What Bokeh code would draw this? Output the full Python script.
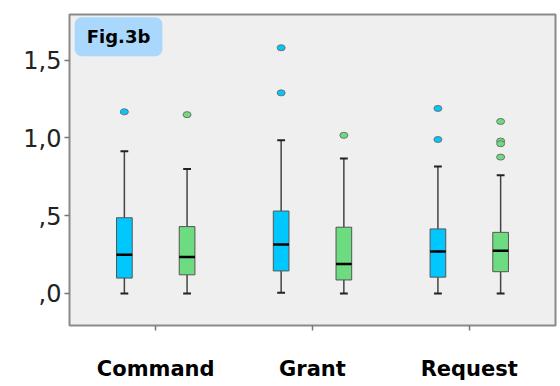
from bokeh.plotting import figure
from bokeh.models import FixedTicker, Range1d, Label
from bokeh.embed import file_html
from bokeh.resources import INLINE

categories = ["Command", "Grant", "Request"]
groups = ["blue", "green"]
# per category: [blue, green]
whisk_lo = [[0.0, 0.0], [0.005, 0.0], [0.0, 0.0]]
q1 = [[0.099, 0.12], [0.145, 0.087], [0.105, 0.14]]
median = [[0.249, 0.235], [0.315, 0.19], [0.27, 0.275]]
q3 = [[0.487, 0.43], [0.53, 0.426], [0.415, 0.393]]
whisk_hi = [[0.915, 0.80], [0.985, 0.868], [0.817, 0.76]]
outliers = [[[1.168], [1.15]], [[1.58, 1.29], [1.017]], [[1.19, 0.99], [1.106, 0.98, 0.963, 0.877]]]
y_ticks = [0.0, 0.5, 1.0, 1.5]
y_tick_labels = [",0", ",5", "1,0", "1,5"]
colors = ["#00c8ff", "#6ddc80"]

FONT = "DejaVu Sans"
p = figure(width=558, height=384, output_backend="svg", toolbar_location=None,
           x_range=Range1d(0.45, 3.55), y_range=Range1d(-0.206, 1.794),
           min_border_left=69, min_border_right=3, min_border_top=14, min_border_bottom=59)
p.background_fill_color = "#efefef"
p.border_fill_color = "white"
p.outline_line_color = "#8a8a8a"
p.outline_line_width = 2
p.xgrid.grid_line_color = None
p.ygrid.grid_line_color = None

offsets = [-0.2, 0.2]
bw = 0.1
cap = 0.05
for gi in range(2):
    xs = [i + 1 + offsets[gi] for i in range(len(categories))]
    lo = [whisk_lo[i][gi] for i in range(3)]
    a = [q1[i][gi] for i in range(3)]
    m = [median[i][gi] for i in range(3)]
    b = [q3[i][gi] for i in range(3)]
    hi = [whisk_hi[i][gi] for i in range(3)]
    p.segment(x0=xs, y0=b, x1=xs, y1=hi, line_color="#444444", line_width=1.5)
    p.segment(x0=xs, y0=lo, x1=xs, y1=a, line_color="#444444", line_width=1.5)
    p.segment(x0=[x - cap / 2 for x in xs], y0=hi, x1=[x + cap / 2 for x in xs], y1=hi,
              line_color="#222222", line_width=2)
    p.segment(x0=[x - cap / 2 for x in xs], y0=lo, x1=[x + cap / 2 for x in xs], y1=lo,
              line_color="#222222", line_width=2)
    p.vbar(x=xs, bottom=a, top=b, width=bw, fill_color=colors[gi], line_color="#555555", line_width=1)
    p.segment(x0=[x - bw / 2 for x in xs], y0=m, x1=[x + bw / 2 for x in xs], y1=m,
              line_color="black", line_width=2.5)
    ox, oy = [], []
    for i in range(3):
        for v in outliers[i][gi]:
            ox.append(xs[i])
            oy.append(v)
    p.ellipse(x=ox, y=oy, width=8, height=6, width_units="screen", height_units="screen",
              fill_color=colors[gi], line_color="#707070", line_width=1)

p.xaxis.ticker = FixedTicker(ticks=[1, 2, 3])
p.xaxis.major_label_overrides = {1: categories[0], 2: categories[1], 3: categories[2]}
p.yaxis.ticker = FixedTicker(ticks=y_ticks)
p.yaxis.major_label_overrides = {t: l for t, l in zip(y_ticks, y_tick_labels)}
for ax in (p.xaxis, p.yaxis):
    ax.axis_line_color = None
    ax.minor_tick_line_color = None
    ax.major_tick_line_color = "#777777"
    ax.major_tick_line_width = 1.5
    ax.major_tick_in = 0
    ax.major_tick_out = 5
p.xaxis.major_label_text_font = FONT
p.xaxis.major_label_text_font_style = "bold"
p.xaxis.major_label_text_font_size = "21px"
p.xaxis.major_label_text_color = "black"
p.xaxis.major_label_standoff = 26
p.yaxis.major_label_text_font = FONT
p.yaxis.major_label_text_font_size = "24px"
p.yaxis.major_label_text_color = "#222222"
p.yaxis.major_label_standoff = 3

lab = Label(x=0.763, y=1.651, text="Fig.3b", text_align="center", text_baseline="middle",
            text_font=FONT, text_font_style="bold", text_font_size="18px", text_color="black",
            background_fill_color="#a9d8fc", padding=(12, 9), border_radius=7)
p.add_layout(lab)

open("out.html", "w").write(file_html(p, INLINE))
